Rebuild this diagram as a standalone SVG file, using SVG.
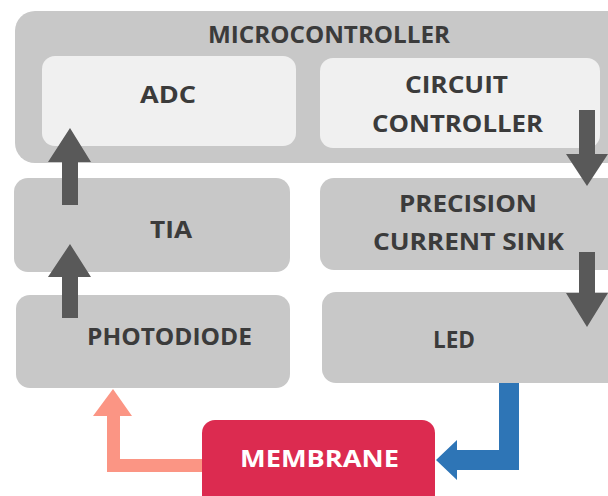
<svg xmlns="http://www.w3.org/2000/svg" width="608" height="496" viewBox="0 0 608 496">
<style>
.box{fill:#c8c8c8}
.inner{fill:#f0f0f0}
.t{font-family:"Open Sans","Liberation Sans",sans-serif;font-weight:bold;font-size:24px;fill:#3b3b3b;text-anchor:middle}
.ga{fill:#595959}
</style>
<rect width="608" height="496" fill="#ffffff"/>
<g id="microcontroller">
<rect class="box" x="15" y="11" width="620" height="152" rx="20"/>
<text class="t" x="329" y="43" textLength="242" lengthAdjust="spacingAndGlyphs">MICROCONTROLLER</text>
</g>
<g id="adc">
<rect class="inner" x="42" y="56" width="254" height="90" rx="13"/>
<text class="t" x="168" y="103" textLength="56" lengthAdjust="spacingAndGlyphs">ADC</text>
</g>
<g id="circuit-controller">
<rect class="inner" x="320" y="58" width="280" height="90" rx="13"/>
<text class="t" x="456.5" y="93" textLength="103" lengthAdjust="spacingAndGlyphs">CIRCUIT</text>
<text class="t" x="457.5" y="132" textLength="171" lengthAdjust="spacingAndGlyphs">CONTROLLER</text>
</g>
<g id="tia">
<rect class="box" x="14" y="178" width="276" height="94" rx="14"/>
<text class="t" x="171" y="238" textLength="42" lengthAdjust="spacingAndGlyphs">TIA</text>
</g>
<g id="precision-current-sink">
<rect class="box" x="320" y="178" width="310" height="92" rx="14"/>
<text class="t" x="468" y="212" textLength="138" lengthAdjust="spacingAndGlyphs">PRECISION</text>
<text class="t" x="468.5" y="250" textLength="191" lengthAdjust="spacingAndGlyphs">CURRENT SINK</text>
</g>
<g id="photodiode">
<rect class="box" x="16" y="295" width="274" height="93" rx="14"/>
<text class="t" x="169.5" y="345" textLength="165" lengthAdjust="spacingAndGlyphs">PHOTODIODE</text>
</g>
<g id="led">
<rect class="box" x="322" y="292" width="310" height="91" rx="14"/>
<text class="t" x="454" y="348" textLength="42" lengthAdjust="spacingAndGlyphs">LED</text>
</g>
<g id="membrane">
<rect x="202" y="420" width="233" height="90" rx="13" fill="#dc2b50"/>
<text class="t" x="319.5" y="467" textLength="159" lengthAdjust="spacingAndGlyphs" style="fill:#ffffff">MEMBRANE</text>
</g>
<g id="connectors">
<polygon class="ga" points="62,205 62,162 48,162 70,128 91,162 78,162 78,205"/>
<polygon class="ga" points="62,318 62,277 48,277 70,244 91,277 78,277 78,318"/>
<polygon class="ga" points="579,110 595,110 595,154 608,154 587,186 566,154 579,154"/>
<polygon class="ga" points="579,252 595,252 595,293 608,293 587,327 566,293 579,293"/>
<polygon fill="#2e75b6" points="499,383 519,383 519,470 457,470 457,480 436,460 457,440 457,450 499,450"/>
<polygon fill="#fb9584" points="202,459 202,472 107,472 107,416 93,416 113,389 132,416 120,416 120,459"/>
</g>
</svg>
